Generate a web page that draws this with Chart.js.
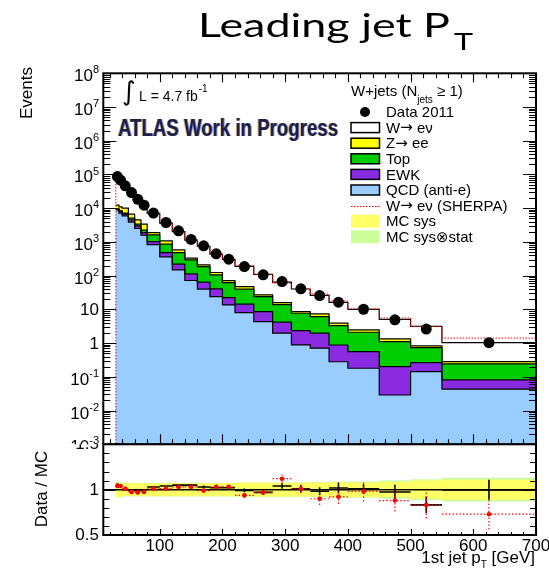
<!DOCTYPE html>
<html>
<head>
<meta charset="utf-8">
<script src="https://cdn.jsdelivr.net/npm/chart.js@4.4.1/dist/chart.umd.min.js"></script>
<style>
  html, body { margin: 0; padding: 0; background: #fff; }
  #wrap { position: relative; width: 549px; height: 572px; overflow: hidden; background: #fff; }
  #main { position: absolute; left: 0; top: 0; }
  #ratio { position: absolute; left: 0; top: 430px; }
</style>
</head>
<body>
<div id="wrap">
  <canvas id="main" width="549" height="460"></canvas>
  <canvas id="ratio" width="549" height="142"></canvas>
</div>
<script>
// ---- leading jet pT bins [GeV] ----
const binEdges = [30, 35, 40, 50, 60, 70, 80, 100, 120, 140, 160, 180, 200, 220, 250, 280, 310, 340, 370, 400, 450, 500, 550, 700];

// ---- events per bin ----
const dataEvents = [87000, 68000, 46000, 29000, 18300, 12300, 7200, 3770, 2130, 1190, 766, 443, 309, 186, 106, 67, 40.6, 25.7, 16.4, 10.1, 4.9, 2.6, 1.03];
const wenuMC     = [69800, 54400, 35900, 22600, 13960, 8930, 5090, 2545, 1446, 803, 535, 310, 231, 140, 82.4, 48.5, 31.6, 18.8, 12.2, 7.54, 3.70, 2.30, 0.75];
const zeeMC      = [2700, 2640, 2910, 1600, 1155, 1135, 275, 220, 98, 36, 23, 18, 9.2, 7.8, 2.9, 2.0, 0.9, 1.25, 0.6, 0.36, 0.22, 0.092, 0.04];
const topMC      = [150, 200, 480, 550, 370, 340, 597, 375, 266, 181, 122, 65.4, 40, 25.4, 15.4, 9.7, 5.35, 4.14, 2.42, 1.54, 0.91, 0.47, 0.161];
const ewkMC      = [500, 1000, 730, 660, 505, 310, 190, 124, 70, 41, 24, 16.6, 8.8, 6.3, 4.25, 2.2, 1.46, 1.26, 0.6, 0.38, 0.171, 0.121, 0.038];
const qcdMC      = [8970, 7160, 5950, 3870, 2500, 1590, 838, 361, 149, 72, 40, 24, 13.6, 8, 4.35, 1.97, 0.885, 0.71, 0.28, 0.18, 0.029, 0.143, 0.043];
const wenuSherpa = [71300, 54400, 35500, 23060, 14340, 9240, 5230, 2650, 1485, 825, 565, 306, 228, 151, 82.4, 43.9, 31.6, 21.2, 13.9, 7.85, 4.24, 2.30, 1.13];

// ---- ratio panel uncertainties (relative) ----
const ratioStatErr  = [0.004, 0.004, 0.004, 0.005, 0.005, 0.006, 0.006, 0.008, 0.01, 0.012, 0.015, 0.018, 0.02, 0.02, 0.025, 0.03, 0.04, 0.045, 0.06, 0.05, 0.08, 0.09, 0.11];
const sherpaStatErr = [0.01, 0.01, 0.01, 0.01, 0.01, 0.01, 0.012, 0.012, 0.015, 0.015, 0.02, 0.02, 0.02, 0.03, 0.03, 0.045, 0.05, 0.07, 0.08, 0.11, 0.12, 0.15, 0.17];
const mcSysErr      = [0.085, 0.075, 0.07, 0.07, 0.07, 0.07, 0.07, 0.07, 0.07, 0.07, 0.07, 0.07, 0.07, 0.075, 0.075, 0.075, 0.075, 0.075, 0.08, 0.08, 0.085, 0.10, 0.11];
const mcTotErr      = [0.09, 0.08, 0.075, 0.075, 0.075, 0.075, 0.075, 0.075, 0.075, 0.075, 0.075, 0.075, 0.075, 0.08, 0.08, 0.08, 0.08, 0.085, 0.09, 0.09, 0.10, 0.115, 0.13];

// ---- axes ----
const xTickLabels = [100, 200, 300, 400, 500, 600, 700];
const yTickExponents = [-3, -2, -1, 0, 1, 2, 3, 4, 5, 6, 7, 8];
const ratioTickLabels = [0.5, 1, 1.5];

// ---- legend ----
const legendTitle = ['W+jets (N', 'jets', ' \u2265 1)'];
const legendEntries = ['Data 2011', 'W\u2192 e\u03bd', 'Z\u2192 ee', 'Top', 'EWK', 'QCD (anti-e)', 'W\u2192 e\u03bd (SHERPA)', 'MC sys', 'MC sys\u2297stat'];

const COL = {
  qcd: '#99ccff', ewk: '#8a2be2', top: '#00cc00', zee: '#ffff00', wenu: '#ffffff',
  sys: '#ffff66', tot: '#ccff99', red: '#ff0000'
};
const SANS = '"Liberation Sans", "DejaVu Sans", Arial, sans-serif';
const f = (px, w) => `${w || 'normal'} ${px}px ${SANS}`;

const nBins = dataEvents.length;
const binCenters = dataEvents.map((_, i) => 0.5 * (binEdges[i] + binEdges[i + 1]));

// stacked cumulative sums, bottom to top
const stackLayers = [qcdMC, ewkMC, topMC, zeeMC, wenuMC];
const stackFills = [COL.qcd, COL.ewk, COL.top, COL.zee, COL.wenu];
const cumulative = [];
let running = new Array(nBins).fill(0);
stackLayers.forEach(layer => {
  running = running.map((v, i) => v + layer[i]);
  cumulative.push(running.slice());
});
const bkgSum = dataEvents.map((_, i) => qcdMC[i] + ewkMC[i] + topMC[i] + zeeMC[i]);
const mcTotal = cumulative[cumulative.length - 1];
const sherpaTotal = wenuSherpa.map((w, i) => w + bkgSum[i]);
const ratioMC = dataEvents.map((d, i) => d / mcTotal[i]);
const ratioSherpa = dataEvents.map((d, i) => d / sherpaTotal[i]);

// histogram as step points: value i holds from edge i to edge i+1
const stepPts = vals => vals.map((v, i) => ({ x: binEdges[i], y: v }))
  .concat([{ x: binEdges[nBins], y: vals[nBins - 1] }]);

// ---------- text helpers ----------
function textSup(ctx, base, sup, xRight, yMid, fsBase, fsSup, dyBase, dySup) {
  ctx.font = f(fsSup);
  const ws = sup ? ctx.measureText(sup).width : 0;
  ctx.font = f(fsBase);
  ctx.textAlign = 'right';
  ctx.textBaseline = 'middle';
  ctx.fillText(base, xRight - ws, yMid + dyBase);
  if (sup) {
    ctx.font = f(fsSup);
    ctx.textAlign = 'left';
    ctx.fillText(sup, xRight - ws, yMid + dySup);
  }
}

// left-aligned text where the arrow uses a wider glyph
function legendText(ctx, str, x, y, px) {
  ctx.textAlign = 'left';
  let cx = x;
  str.split(/(\u2192)/).forEach(part => {
    if (!part) return;
    ctx.font = part === '\u2192' ? `normal ${px}px "DejaVu Sans", sans-serif` : f(px);
    ctx.fillText(part, cx, y);
    cx += ctx.measureText(part).width;
  });
}

// ---------- main panel decoration ----------
const mainDecor = {
  id: 'mainDecor',
  afterDraw(chart) {
    const { ctx, chartArea: a, scales: { x, y } } = chart;
    ctx.save();
    ctx.strokeStyle = '#000';
    ctx.fillStyle = '#000';

    // ticks (pointing inward)
    ctx.lineWidth = 1.1;
    ctx.beginPath();
    for (let v = 20; v <= 700; v += 20) {
      const px = Math.round(x.getPixelForValue(v)) + 0.5;
      const major = v % 100 === 0;
      ctx.moveTo(px, a.bottom); ctx.lineTo(px, a.bottom - (major ? 10 : 5));
      ctx.moveTo(px, a.top); ctx.lineTo(px, a.top + (major ? 9 : 5));
    }
    for (let d = -3; d <= 8; d++) {
      for (let m = 1; m <= 9; m++) {
        if (d === 8 && m > 1) break;
        const py = Math.round(y.getPixelForValue(m * Math.pow(10, d))) + 0.5;
        const len = m === 1 ? 13 : 7;
        ctx.moveTo(a.left, py); ctx.lineTo(a.left + len, py);
        ctx.moveTo(a.right, py); ctx.lineTo(a.right - len, py);
      }
    }
    ctx.stroke();

    // frame
    ctx.lineWidth = 2;
    ctx.strokeRect(a.left, a.top, a.right - a.left, a.bottom - a.top);

    // y tick labels
    yTickExponents.forEach(e => {
      const py = y.getPixelForValue(Math.pow(10, e));
      if (e === 0) textSup(ctx, '1', '', 99, py, 17, 11, 1, 0);
      else if (e === 1) textSup(ctx, '10', '', 99, py, 17, 11, 1.3, 0);
      else textSup(ctx, '10', String(e), 99, py, 17, 11, 3.3, -3);
    });

    // y title
    ctx.save();
    ctx.translate(27, 67);
    ctx.rotate(-Math.PI / 2);
    ctx.font = f(17);
    ctx.textAlign = 'right';
    ctx.textBaseline = 'middle';
    ctx.fillText('Events', 0, 0);
    ctx.restore();

    // title
    ctx.save();
    ctx.font = `normal 32px Lato, "Open Sans", ${SANS}`;
    ctx.textAlign = 'left';
    ctx.textBaseline = 'alphabetic';
    const tw = ctx.measureText('Leading jet P').width;
    const sx = 252 / tw;
    ctx.translate(198, 37);
    ctx.scale(sx, 1);
    ctx.fillText('Leading jet P', 0, 0);
    ctx.font = `normal 23px Lato, "Open Sans", ${SANS}`;
    ctx.fillText('T', tw + 4 / sx, 13);
    ctx.restore();

    // luminosity
    ctx.textAlign = 'left';
    ctx.textBaseline = 'alphabetic';
    ctx.font = `normal 26px "DejaVu Sans", ${SANS}`;
    ctx.fillText('\u222b', 122, 100);
    ctx.font = f(14);
    ctx.fillText('L = 4.7 fb', 139, 101);
    const lw = ctx.measureText('L = 4.7 fb').width;
    ctx.font = f(10);
    ctx.fillText('-1', 139 + lw + 1, 92);

    // experiment label
    ctx.save();
    ctx.font = f(24, 'bold');
    const aw = ctx.measureText('ATLAS Work in Progress').width;
    ctx.translate(118, 136);
    ctx.scale(220 / aw, 1);
    ctx.filter = 'blur(0.7px)';
    ctx.fillStyle = 'rgba(200,150,40,0.6)';
    ctx.fillText('ATLAS Work in Progress', -1.2, 0);
    ctx.fillStyle = 'rgba(40,70,200,0.6)';
    ctx.fillText('ATLAS Work in Progress', 1.2, 0);
    ctx.fillStyle = '#1e1e46';
    ctx.fillText('ATLAS Work in Progress', 0, 0);
    ctx.restore();

    // legend header
    ctx.fillStyle = '#000';
    ctx.font = f(15);
    ctx.textBaseline = 'alphabetic';
    ctx.fillText(legendTitle[0], 351, 96);
    let lx = 351 + ctx.measureText(legendTitle[0]).width;
    ctx.font = f(10);
    ctx.fillText(legendTitle[1], lx, 103);
    lx += ctx.measureText(legendTitle[1]).width;
    ctx.font = f(15);
    ctx.fillText(legendTitle[2], lx, 96);

    // legend rows
    const bx = 351, bw = 28.5, tx = 386;
    legendEntries.forEach((label, i) => {
      const cy = 112 + 15.6 * i;
      if (i === 0) {
        ctx.beginPath();
        ctx.arc(365, cy, 5, 0, 2 * Math.PI);
        ctx.fill();
      } else if (i >= 1 && i <= 5) {
        const fills = [COL.wenu, COL.zee, COL.top, COL.ewk, COL.qcd];
        ctx.fillStyle = fills[i - 1];
        ctx.fillRect(bx, cy - 5, bw, 10);
        ctx.lineWidth = 1.5;
        ctx.strokeStyle = '#000';
        ctx.strokeRect(bx, cy - 5, bw, 10);
        ctx.fillStyle = '#000';
      } else if (i === 6) {
        ctx.save();
        ctx.strokeStyle = COL.red;
        ctx.lineWidth = 1;
        ctx.setLineDash([1.5, 1.5]);
        ctx.beginPath();
        ctx.moveTo(bx, Math.round(cy) + 0.5);
        ctx.lineTo(bx + bw, Math.round(cy) + 0.5);
        ctx.stroke();
        ctx.restore();
      } else {
        ctx.fillStyle = i === 7 ? COL.sys : COL.tot;
        ctx.fillRect(bx, cy - 6.5, bw, 13);
        ctx.fillStyle = '#000';
      }
      ctx.textBaseline = 'middle';
      legendText(ctx, label, tx, cy + 1, 15);
    });
    ctx.restore();
  }
};

// ---------- ratio panel decoration ----------
const ratioDecor = {
  id: 'ratioDecor',
  beforeDraw(chart) {
    const { ctx, chartArea: a } = chart;
    ctx.save();
    ctx.fillStyle = '#fff';
    ctx.fillRect(0, a.top, chart.width, chart.height - a.top);
    ctx.restore();
  },
  afterDatasetsDraw(chart) {
    const { ctx, chartArea: a, scales: { x, y } } = chart;
    ctx.save();
    ctx.beginPath();
    ctx.rect(a.left, a.top, a.right - a.left, a.bottom - a.top);
    ctx.clip();
    // data / MC crosses
    ctx.strokeStyle = '#000';
    ctx.lineWidth = 1.6;
    ctx.beginPath();
    for (let i = 0; i < nBins; i++) {
      const xl = x.getPixelForValue(binEdges[i]);
      const xr = x.getPixelForValue(binEdges[i + 1]);
      const xc = x.getPixelForValue(binCenters[i]);
      const yc = y.getPixelForValue(ratioMC[i]);
      ctx.moveTo(xl, yc); ctx.lineTo(xr, yc);
      ctx.moveTo(xc, y.getPixelForValue(ratioMC[i] - ratioStatErr[i]));
      ctx.lineTo(xc, y.getPixelForValue(ratioMC[i] + ratioStatErr[i]));
    }
    ctx.stroke();
    // data / SHERPA
    ctx.strokeStyle = COL.red;
    ctx.lineWidth = 1.2;
    ctx.setLineDash([1.5, 2]);
    ctx.beginPath();
    for (let i = 0; i < nBins; i++) {
      const xl = x.getPixelForValue(binEdges[i]);
      const xr = x.getPixelForValue(binEdges[i + 1]);
      const xc = x.getPixelForValue(binCenters[i]);
      const yc = y.getPixelForValue(ratioSherpa[i]);
      ctx.moveTo(xl, yc); ctx.lineTo(xr, yc);
      ctx.moveTo(xc, y.getPixelForValue(ratioSherpa[i] - sherpaStatErr[i]));
      ctx.lineTo(xc, y.getPixelForValue(ratioSherpa[i] + sherpaStatErr[i]));
    }
    ctx.stroke();
    ctx.setLineDash([]);
    ctx.fillStyle = COL.red;
    for (let i = 0; i < nBins; i++) {
      const xc = x.getPixelForValue(binCenters[i]);
      const yc = y.getPixelForValue(ratioSherpa[i]);
      ctx.beginPath();
      ctx.arc(xc, yc, 2.3, 0, 2 * Math.PI);
      ctx.fill();
    }
    ctx.restore();
  },
  afterDraw(chart) {
    const { ctx, chartArea: a, scales: { x, y } } = chart;
    ctx.save();
    ctx.strokeStyle = '#000';
    ctx.fillStyle = '#000';
    ctx.lineWidth = 1.1;
    ctx.beginPath();
    for (let v = 20; v <= 700; v += 20) {
      const px = Math.round(x.getPixelForValue(v)) + 0.5;
      const major = v % 100 === 0;
      ctx.moveTo(px, a.bottom); ctx.lineTo(px, a.bottom - (major ? 6 : 3));
    }
    for (let k = 5; k <= 15; k++) {
      const py = Math.round(y.getPixelForValue(k / 10)) + 0.5;
      const len = k % 5 === 0 ? 12 : 6;
      ctx.moveTo(a.left, py); ctx.lineTo(a.left + len, py);
      ctx.moveTo(a.right, py); ctx.lineTo(a.right - len, py);
    }
    ctx.stroke();
    ctx.lineWidth = 2;
    ctx.strokeRect(a.left, a.top, a.right - a.left, a.bottom - a.top);

    // y labels (clipped to the pad)
    ctx.save();
    ctx.beginPath();
    ctx.rect(0, a.top, chart.width, chart.height - a.top);
    ctx.clip();
    ctx.font = f(17);
    ctx.textAlign = 'right';
    ctx.textBaseline = 'middle';
    ratioTickLabels.forEach(v => {
      ctx.fillText(String(v), 99, y.getPixelForValue(v) + 0.5);
    });
    ctx.restore();

    // x labels
    ctx.font = f(17);
    ctx.textAlign = 'center';
    ctx.textBaseline = 'middle';
    xTickLabels.forEach(v => ctx.fillText(String(v), x.getPixelForValue(v), 116.5));

    // x title
    ctx.textAlign = 'left';
    ctx.textBaseline = 'alphabetic';
    ctx.font = f(10);
    const wT = ctx.measureText('T').width;
    ctx.font = f(17);
    const w1 = ctx.measureText('1st jet p').width;
    const w2 = ctx.measureText(' [GeV]').width;
    const x0 = 535 - w1 - wT - w2;
    ctx.fillText('1st jet p', x0, 133);
    ctx.fillText(' [GeV]', x0 + w1 + wT, 133);
    ctx.font = f(10);
    ctx.fillText('T', x0 + w1, 138);

    // y title
    ctx.save();
    ctx.translate(42.5, 59);
    ctx.rotate(-Math.PI / 2);
    ctx.font = f(17);
    ctx.textAlign = 'center';
    ctx.textBaseline = 'middle';
    ctx.fillText('Data / MC', 0, 0);
    ctx.restore();
    ctx.restore();
  }
};

// ---------- main panel ----------
const mainDatasets = [];
cumulative.forEach((c, k) => {
  mainDatasets.push({
    data: stepPts(c),
    stepped: 'before',
    borderColor: '#000',
    borderWidth: 1.2,
    backgroundColor: stackFills[k],
    fill: k === 0 ? 'start' : '-1',
    pointRadius: 0,
    order: 10 - k
  });
});
mainDatasets.push({
  data: [{ x: binEdges[0], y: 1e-6 }].concat(stepPts(sherpaTotal)),
  stepped: 'before',
  borderColor: COL.red,
  borderWidth: 1,
  borderDash: [1.5, 1.5],
  fill: false,
  pointRadius: 0,
  order: 1
});
mainDatasets.push({
  data: dataEvents.map((v, i) => ({ x: binCenters[i], y: v })),
  showLine: false,
  pointRadius: 5.5,
  pointBackgroundColor: '#000',
  pointBorderColor: '#000',
  pointBorderWidth: 0,
  fill: false,
  order: 0
});

new Chart(document.getElementById('main'), {
  type: 'line',
  data: { datasets: mainDatasets },
  options: {
    responsive: false,
    animation: false,
    devicePixelRatio: 1,
    events: [],
    layout: { padding: { left: 103.3, right: 13, top: 73.3, bottom: 15.7 } },
    scales: {
      x: { type: 'linear', min: 10, max: 700, display: false },
      y: { type: 'logarithmic', min: 1e-3, max: 1e8, display: false }
    },
    plugins: {
      legend: { display: false },
      tooltip: { enabled: false },
      filler: { drawTime: 'beforeDatasetsDraw' }
    }
  },
  plugins: [mainDecor]
});

// ---------- ratio panel ----------
const band = (errs, sign) => stepPts(errs.map(e => 1 + sign * e));
const ratioDatasets = [
  { data: band(mcSysErr, -1), stepped: 'before', borderWidth: 0, pointRadius: 0, fill: false },
  { data: band(mcSysErr, 1), stepped: 'before', borderWidth: 0, pointRadius: 0, fill: '-1', backgroundColor: COL.sys },
  { data: band(mcTotErr, -1), stepped: 'before', borderWidth: 0, pointRadius: 0, fill: false },
  { data: band(mcTotErr, 1), stepped: 'before', borderWidth: 0, pointRadius: 0, fill: '-1', backgroundColor: COL.tot },
  { data: [{ x: 10, y: 1 }, { x: 700, y: 1 }], borderColor: '#000', borderWidth: 1.5, pointRadius: 0, fill: false }
];

new Chart(document.getElementById('ratio'), {
  type: 'line',
  data: { datasets: ratioDatasets },
  options: {
    responsive: false,
    animation: false,
    devicePixelRatio: 1,
    events: [],
    layout: { padding: { left: 103.3, right: 13, top: 14.3, bottom: 37 } },
    scales: {
      x: { type: 'linear', min: 10, max: 700, display: false },
      y: { type: 'linear', min: 0.5, max: 1.5, display: false }
    },
    plugins: {
      legend: { display: false },
      tooltip: { enabled: false },
      filler: { drawTime: 'beforeDatasetsDraw' }
    }
  },
  plugins: [ratioDecor]
});
</script>
</body>
</html>
